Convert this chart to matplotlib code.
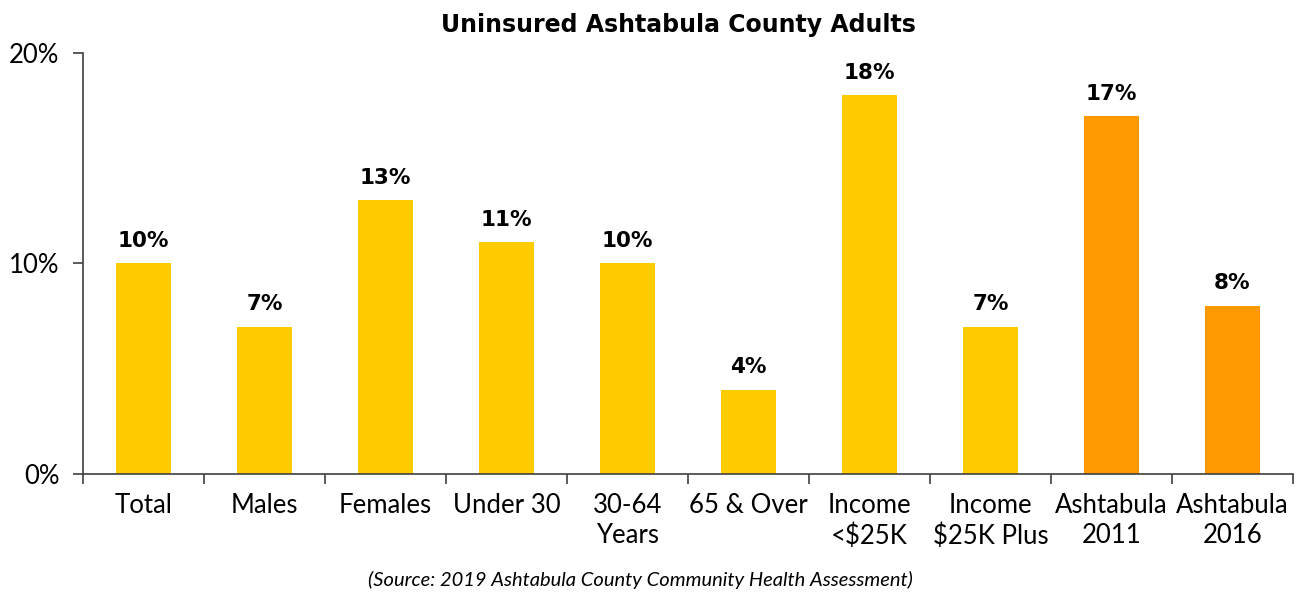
import matplotlib
matplotlib.use("Agg")
import matplotlib.pyplot as plt
import numpy as np

categories = ["Total", "Males", "Females", "Under 30", "30-64\nYears", "65 & Over",
              "Income\n<$25K", "Income\n$25K Plus", "Ashtabula\n2011", "Ashtabula\n2016"]
values = [10, 7, 13, 11, 10, 4, 18, 7, 17, 8]
colors = ["#FFCC00"] * 8 + ["#FF9900"] * 2
yticks = [0, 10, 20]
ytick_labels = ["0%", "10%", "20%"]

plt.rcParams["font.family"] = ["Lato", "DejaVu Sans"]
BOLD = ["DejaVu Sans"]

fig = plt.figure(figsize=(13.03, 5.93), dpi=100)
ax = fig.add_axes([0.0637, 0.2007, 0.9286, 0.7099])

x = np.arange(len(categories))
ax.bar(x, values, width=0.45, color=colors, zorder=2)

for xi, v in zip(x, values):
    ax.annotate(f"{v}%", (xi, v), xytext=(0, 9), textcoords="offset points",
                ha="center", va="bottom", fontsize=15.5, fontweight="bold",
                family=BOLD, color="black")

ax.set_xlim(-0.5, len(categories) - 0.5)
ax.set_ylim(0, 20)
ax.set_yticks(yticks)
ax.set_yticklabels(ytick_labels, fontsize=18.5)

ax.set_xticks(x)
ax.set_xticklabels(categories, fontsize=18.5, linespacing=1.25)
ax.tick_params(axis="x", length=0, pad=14)
ax.set_xticks(np.arange(len(categories) + 1) - 0.5, minor=True)
ax.tick_params(axis="x", which="minor", length=7, width=1.2, color="#404040", direction="out")
ax.tick_params(axis="y", length=7, width=1.2, color="#404040", direction="out", pad=10)

for side in ["top", "right"]:
    ax.spines[side].set_visible(False)
for side in ["left", "bottom"]:
    ax.spines[side].set_color("#404040")
    ax.spines[side].set_linewidth(1.2)

fig.text(678 / 1303, 1 - 25 / 593, "Uninsured Ashtabula County Adults",
         ha="center", va="center", fontsize=17, fontweight="bold", family=BOLD)
fig.text(640 / 1303, 1 - 580 / 593, "(Source: 2019 Ashtabula County Community Health Assessment)",
         ha="center", va="center", fontsize=14.5, fontstyle="italic")

fig.savefig("out.png", dpi=100)
